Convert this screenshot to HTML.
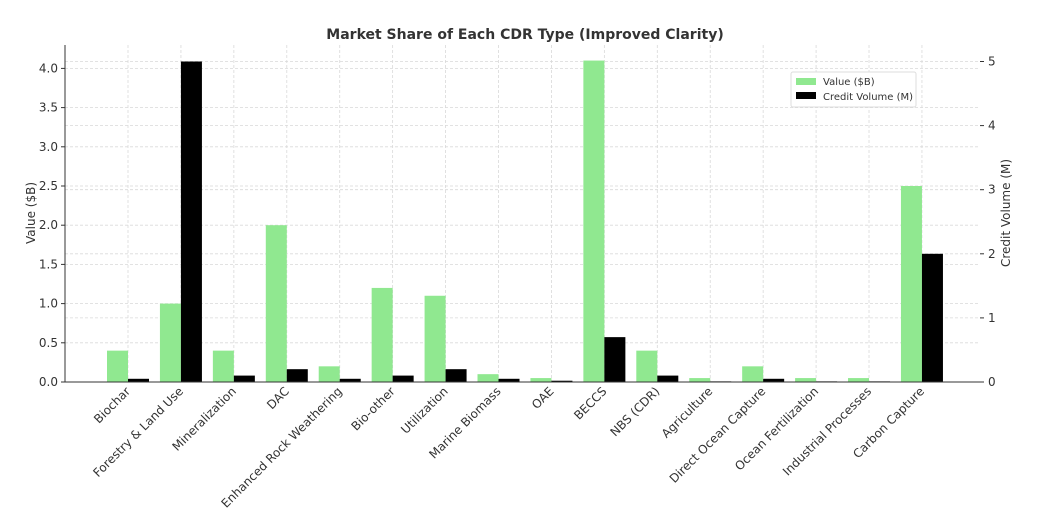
<!DOCTYPE html>
<html><head><meta charset="utf-8"><style>html,body{margin:0;padding:0;background:#fff}svg{display:block}</style></head>
<body>
<svg width="1038" height="525" viewBox="0 0 1038 525" xmlns="http://www.w3.org/2000/svg" font-family="DejaVu Sans, Liberation Sans, sans-serif">
<rect width="1038" height="525" fill="#fff"/>
<text x="525" y="39" text-anchor="middle" font-size="14" font-weight="bold" fill="#333">Market Share of Each CDR Type (Improved Clarity)</text>
<g id="grid" stroke="#d9d9d9" stroke-width="0.8" stroke-dasharray="3,2"></g>
<g id="bars"></g>
<line x1="65" y1="45" x2="65" y2="382" stroke="#333" stroke-width="1"/>
<line x1="65" y1="382" x2="980" y2="382" stroke="#333" stroke-width="1"/>
<g id="ticks" font-size="12" fill="#333"></g>
<text transform="translate(35,213) rotate(-90)" text-anchor="middle" font-size="12" fill="#333">Value ($B)</text>
<text transform="translate(1010,213) rotate(-90)" text-anchor="middle" font-size="12" fill="#333">Credit Volume (M)</text>
<g>
<rect x="791" y="72" width="125" height="35" fill="#fff" stroke="#ddd" rx="2"/>
<rect x="796" y="78" width="20" height="7" fill="#90e890"/>
<text x="823" y="85" font-size="10" fill="#333">Value ($B)</text>
<rect x="796" y="92" width="20" height="7" fill="#000"/>
<text x="823" y="100" font-size="10" fill="#333">Credit Volume (M)</text>
</g>
<script>
const cats=["Biochar","Forestry & Land Use","Mineralization","DAC","Enhanced Rock Weathering","Bio-other","Utilization","Marine Biomass","OAE","BECCS","NBS (CDR)","Agriculture","Direct Ocean Capture","Ocean Fertilization","Industrial Processes","Carbon Capture"];
const g=[0.4,1.0,0.4,2.0,0.2,1.2,1.1,0.1,0.05,4.1,0.4,0.05,0.2,0.05,0.05,2.5];
const b=[0.05,5,0.1,0.2,0.05,0.1,0.2,0.05,0.02,0.7,0.1,0.01,0.05,0.01,0.01,2.0];
const NS="http://www.w3.org/2000/svg";
function el(p,t,a,txt){const e=document.createElementNS(NS,t);for(const k in a)e.setAttribute(k,a[k]);if(txt!==undefined)e.textContent=txt;document.getElementById(p).appendChild(e);}
const y0=382,sl=78.4,sr=64.1;
for(let i=0;i<=8;i++){const y=y0-i*0.5*sl;el("grid","line",{x1:65,x2:980,y1:y,y2:y});el("ticks","text",{x:58,y:y+4,"text-anchor":"end"},(i*0.5).toFixed(1));el("ticks","line",{x1:61,x2:65,y1:y,y2:y,stroke:"#333"});}
for(let i=0;i<=5;i++){const y=y0-i*sr;el("grid","line",{x1:65,x2:980,y1:y,y2:y});el("ticks","text",{x:988,y:y+4},String(i));el("ticks","line",{x1:980,x2:984,y1:y,y2:y,stroke:"#333"});}
cats.forEach((c,i)=>{const cx=128+i*52.93;el("grid","line",{x1:cx,x2:cx,y1:45,y2:382});
el("bars","rect",{x:cx-21,y:y0-g[i]*sl,width:21,height:g[i]*sl,fill:"#90e890"});
el("bars","rect",{x:cx,y:y0-b[i]*sr,width:21,height:b[i]*sr,fill:"#000"});
el("ticks","text",{transform:`translate(${cx+3},${392}) rotate(-45)`,"text-anchor":"end"},c);});
</script>
</svg>
</body></html>
